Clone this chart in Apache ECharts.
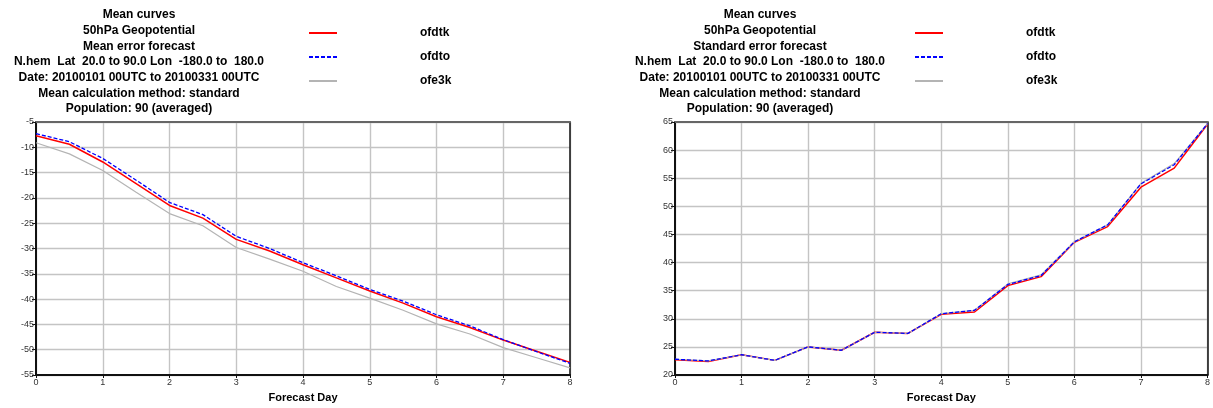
<!DOCTYPE html>
<html><head><meta charset="utf-8">
<script src="https://cdn.jsdelivr.net/npm/echarts@6/dist/echarts.min.js"></script>
<style>html,body{margin:0;padding:0;background:#fff}#c{width:1213px;height:408px}</style>
</head><body><div id="c"></div>
<script>
const days = [0,0.5,1,1.5,2,2.5,3,3.5,4,4.5,5,5.5,6,6.5,7,7.5,8];
const seriesNames = ['ofdtk','ofdto','ofe3k'];
// Mean error
const meOfdtk = [-7.7,-9.4,-12.9,-17.2,-21.5,-24.0,-28.2,-30.5,-33.2,-35.8,-38.4,-40.8,-43.5,-45.6,-48.1,-50.3,-52.5];
const meOfdto = [-7.3,-8.9,-12.2,-16.5,-20.9,-23.3,-27.6,-30.0,-32.8,-35.4,-38.1,-40.4,-43.1,-45.3,-48.0,-50.4,-52.7];
const meOfe3k = [-9.1,-11.3,-14.6,-18.9,-23.1,-25.5,-29.8,-32.1,-34.5,-37.5,-39.8,-42.2,-44.9,-46.9,-49.6,-51.6,-53.6];
// Standard error
const seOfdtk = [22.7,22.4,23.6,22.6,25.0,24.4,27.6,27.4,30.8,31.2,35.9,37.5,43.6,46.4,53.4,56.8,64.6];
const seOfdto = [22.8,22.5,23.6,22.6,25.0,24.4,27.6,27.4,30.9,31.5,36.1,37.7,43.7,46.7,54.0,57.4,64.7];
const seOfe3k = [22.8,22.5,23.6,22.6,25.0,24.4,27.6,27.4,30.9,31.5,36.2,37.8,43.7,46.7,54.1,57.6,64.7];
const meTicks = {min:-55, max:-5, interval:5};
const seTicks = {min:20, max:65, interval:5};
const titleLeft = 'Mean curves\n50hPa Geopotential\nMean error forecast\nN.hem  Lat  20.0 to 90.0 Lon  -180.0 to  180.0\nDate: 20100101 00UTC to 20100331 00UTC\nMean calculation method: standard\nPopulation: 90 (averaged)';
const titleRight = 'Mean curves\n50hPa Geopotential\nStandard error forecast\nN.hem  Lat  20.0 to 90.0 Lon  -180.0 to  180.0\nDate: 20100101 00UTC to 20100331 00UTC\nMean calculation method: standard\nPopulation: 90 (averaged)';

const pairs = arr => arr.map((v,i)=>[days[i], v]);
const font = 'Liberation Sans, Arial, sans-serif';
const titleStyle = {fontFamily:font, fontWeight:'bold', fontSize:12, color:'#000', lineHeight:15.7};
function xAxis(idx){
  return {type:'value', gridIndex:idx, min:0, max:8, interval:1,
    name:'Forecast Day', nameLocation:'middle', nameGap:17,
    nameTextStyle:{fontFamily:font, fontWeight:'bold', fontSize:11, color:'#000'},
    axisLine:{show:true, onZero:false, lineStyle:{color:'#111', width:2}},
    axisTick:{show:true, length:3, lineStyle:{color:'#111'}},
    axisLabel:{fontFamily:font, fontSize:9, color:'#333', margin:3},
    splitLine:{show:true, lineStyle:{color:'#c4c4c4', width:1.4}}};
}
function xAxisTop(idx){
  return {type:'value', gridIndex:idx, position:'top', min:0, max:8, interval:1,
    axisLine:{show:true, onZero:false, lineStyle:{color:'#666', width:2}},
    axisTick:{show:false}, axisLabel:{show:false}, splitLine:{show:false}};
}
function yAxis(idx, t){
  return {type:'value', gridIndex:idx, min:t.min, max:t.max, interval:t.interval,
    axisLine:{show:true, onZero:false, lineStyle:{color:'#111', width:2}},
    axisTick:{show:true, length:4, lineStyle:{color:'#111'}},
    axisLabel:{fontFamily:font, fontSize:9, color:'#333', margin:2},
    splitLine:{show:true, lineStyle:{color:'#c4c4c4', width:1.4}}};
}
function yAxisRight(idx, t){
  return {type:'value', gridIndex:idx, position:'right', min:t.min, max:t.max, interval:t.interval,
    axisLine:{show:true, onZero:false, lineStyle:{color:'#111', width:1.5}},
    axisTick:{show:false}, axisLabel:{show:false}, splitLine:{show:false}};
}
const styles = {
  ofdtk:{color:'#ff0000', width:1.5, type:'solid', z:2},
  ofdto:{color:'#0000ff', width:1.3, type:[4,2], z:4},
  ofe3k:{color:'#b4b4b4', width:1.2, type:'solid', z:3}
};
function mk(name, data, idx){
  const s = styles[name];
  return {name, type:'line', xAxisIndex:idx, yAxisIndex:idx, data:pairs(data),
    showSymbol:false, symbol:'none', animation:false, z:s.z,
    lineStyle:{color:s.color, width:s.width, type:s.type},
    itemStyle:{color:s.color}};
}
function legend(left){
  return {orient:'vertical', left:left, top:22, itemWidth:28, itemHeight:12, itemGap:12,
    data:seriesNames, selectedMode:false,
    itemStyle:{opacity:0, borderWidth:0},
    textStyle:{fontFamily:font, fontWeight:'bold', fontSize:12, color:'#000', padding:[4,0,0,78]}};
}
const chart = echarts.init(document.getElementById('c'));
chart.setOption({
  animation:false,
  backgroundColor:'#fff',
  title:[
    {text:titleLeft, left:134, top:2, textAlign:'center', textStyle:titleStyle},
    {text:titleRight, left:755, top:2, textAlign:'center', textStyle:titleStyle}
  ],
  legend:[legend(303), legend(909)],
  grid:[
    {left:36, right:643, top:122, bottom:28, show:false},
    {left:675, right:5, top:122, bottom:28, show:false}
  ],
  xAxis:[xAxis(0), xAxis(1), xAxisTop(0), xAxisTop(1)],
  yAxis:[yAxis(0, meTicks), yAxis(1, seTicks), yAxisRight(0, meTicks), yAxisRight(1, seTicks)],
  series:[
    mk('ofdtk', meOfdtk, 0), mk('ofdto', meOfdto, 0), mk('ofe3k', meOfe3k, 0),
    mk('ofdtk', seOfdtk, 1), mk('ofdto', seOfdto, 1), mk('ofe3k', seOfe3k, 1)
  ]
});
</script></body></html>
